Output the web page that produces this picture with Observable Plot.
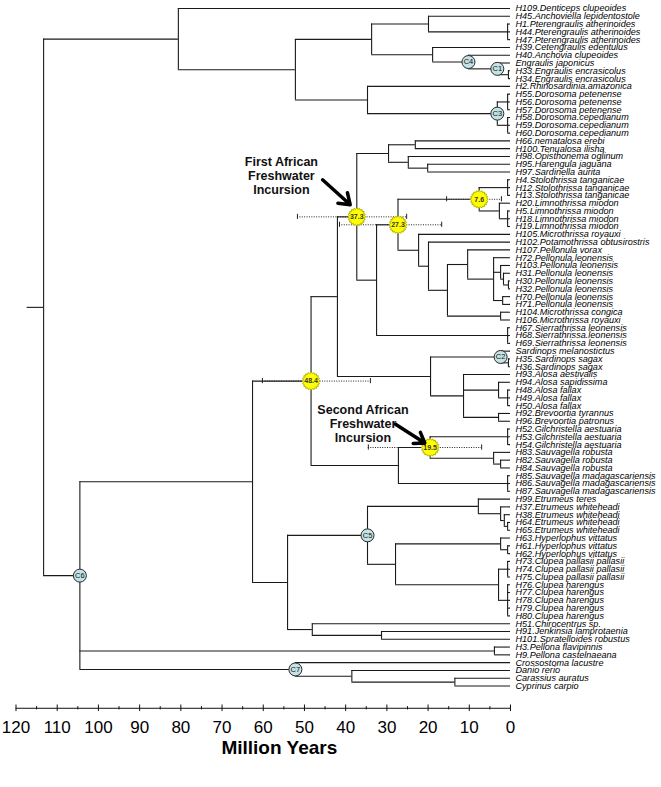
<!DOCTYPE html>
<html><head><meta charset="utf-8">
<script src="https://cdn.jsdelivr.net/npm/d3@7"></script>
<script src="https://cdn.jsdelivr.net/npm/@observablehq/plot@0.6"></script>
<style>body{margin:0;background:#fff}</style>
</head><body><div id="chart"></div>
<script>
const tipNames = [
"H109.Denticeps clupeoides","H45.Anchoviella lepidentostole","H1.Pterengraulis atherinoides","H44.Pterengraulis atherinoides","H47.Pterengraulis atherinoides",
"H39.Cetengraulis edentulus","H40.Anchovia clupeoides","Engraulis japonicus","H33.Engraulis encrasicolus","H34.Engraulis encrasicolus",
"H2.Rhinosardinia.amazonica","H55.Dorosoma petenense","H56.Dorosoma petenense","H57.Dorosoma petenense","H58.Dorosoma.cepedianum",
"H59.Dorosoma.cepedianum","H60.Dorosoma.cepedianum","H66.nematalosa erebi","H100.Tenualosa ilisha","H98.Opisthonema oglinum",
"H95.Harengula jaguana","H97.Sardinella aurita","H4.Stolothrissa tanganicae","H12.Stolothrissa tanganicae","H13.Stolothrissa tanganicae",
"H20.Limnothrissa miodon","H5.Limnothrissa miodon","H18.Limnothrissa miodon","H19.Limnothrissa miodon","H105.Microthrissa royauxi",
"H102.Potamothrissa obtusirostris","H107.Pellonula vorax","H72.Pellonula.leonensis","H103.Pellonula leonensis","H31.Pellonula leonensis",
"H30.Pellonula leonensis","H32.Pellonula leonensis","H70.Pellonula leonensis","H71.Pellonula leonensis","H104.Microthrissa congica",
"H106.Microthrissa royauxi","H67.Sierrathrissa leonensis","H68.Sierrathrissa.leonensis","H69.Sierrathrissa leonensis","Sardinops melanostictus",
"H35.Sardinops sagax","H36.Sardinops sagax","H93.Alosa aestivalis","H94.Alosa sapidissima","H48.Alosa fallax",
"H49.Alosa fallax","H50.Alosa fallax","H92.Brevoortia tyrannus","H96.Brevoortia patronus","H52.Gilchristella aestuaria",
"H53.Gilchristella aestuaria","H54.Gilchristella aestuaria","H83.Sauvagella robusta","H82.Sauvagella robusta","H84.Sauvagella robusta",
"H85.Sauvagella madagascariensis","H86.Sauvagella madagascariensis","H87.Sauvagella madagascariensis","H99.Etrumeus teres","H37.Etrumeus whiteheadi",
"H38.Etrumeus whiteheadi","H64.Etrumeus whiteheadi","H65.Etrumeus whiteheadi","H63.Hyperlophus vittatus","H61.Hyperlophus vittatus",
"H62.Hyperlophus vittatus","H73.Clupea pallasii pallasii","H74.Clupea pallasii pallasii","H75.Clupea pallasii pallasii","H76.Clupea harengus",
"H77.Clupea harengus","H78.Clupea harengus","H79.Clupea harengus","H80.Clupea harengus","H51.Chirocentrus sp.",
"H91.Jenkinsia lamprotaenia","H101.Spratelloides robustus","H3.Pellona flavipinnis","H9.Pellona castelnaeana","Crossostoma lacustre",
"Danio rerio","Carassius auratus","Cyprinus carpio"];
const tipParent = [
"n178","eng1","ptero","ptero","ptero","eng2","c4","c1","enc","enc",
"w367","dpet","dpet","dpet","dcep","dcep","dcep","nem","nem","opi",
"har","har","stol","stol","stol","lim1","lim2","lim2","lim2","n418",
"n428","n467","p1","p2","p4","p5","p5","p3","p3","mic",
"mic","sier","sier","sier","c2","sag","sag","n463","a2","a1",
"a1","a1","brev","brev","gil","gil","gil","sr1","sr2","sr2",
"smad","smad","smad","et1","et2","et3","et4","et4","hy1","hy2",
"hy2","pal","pal","pal","haren","haren","haren","haren","haren","chi",
"jen","jen","pell","pell","c7","dan","cc","cc"];
const nodeIds    = ["root","n178","n296","eng","eng1","ptero","eng2","c4","c1","enc","w367","c3","dpet","dcep","c6","n252","d48","n337","d37","z388","nem","opi","har","n376","d27","d7","stol","lim1","lim2","n418","n428","n447","n467","p1","p2","p4","p5","p3","mic","sier","n430","c2","sag","n463","a2","a1","brev","n398","d19","gil","sr1","sr2","smad","n287","c5","et1","et2","et3","et4","n395","hy1","hy2","clu","pal","haren","chi","jen","pell","c7","dan","cc"];
const nodeParent = [null,"root","n178","n296","eng","eng1","eng","eng2","c4","c1","n296","w367","c3","c3","root","c6","n252","d48","n337","d37","z388","z388","opi","d37","n376","d27","d7","d7","lim1","d27","n418","n428","n447","n467","p1","p2","p4","p1","n447","n376","n337","n430","c2","n430","n463","a2","n463","d48","n398","d19","d19","sr1","n398","n252","n287","c5","et1","et2","et3","c5","n395","hy1","n395","clu","clu","n287","chi","c6","c6","c7","dan"];
const nodeAge    = [113.3,80.6,52.2,33.7,19.9,0.7,18.9,10.2,3.2,0.5,34.7,3.2,0.7,0.7,104.5,62.6,48.4,42.0,37.3,29.6,23.1,24.8,20.1,32.5,27.3,7.6,0.7,2.7,0.7,22.3,19.9,15.3,10.4,4.1,2.4,1.7,0.5,1.9,2.4,0.7,19.4,2.4,0.5,11.4,2.9,0.7,2.9,27.2,19.5,0.7,4.1,2.4,0.7,54.1,34.7,7.8,2.4,1.5,0.7,27.9,2.4,0.7,2.9,0.7,0.7,48.1,31.3,3.9,52.2,38.5,13.5];
const rootStubAge = 117.3;

const calibNodes  = ["c1","c2","c3","c4","c5","c6","c7"];
const calibLabels = ["C1","C2","C3","C4","C5","C6","C7"];

const dateNodes = ["d48","d37","d27","d7","d19"];
const dateText  = ["48.4","37.3","27.3","7.6","19.5"];
const dateLow   = [60.2,51.7,41.5,15.5,34.5];
const dateHigh  = [34.0,25.2,16.7,2.2,7.0];

const noteText = ["First African\nFreshwater\nIncursion","Second African\nFreshwater\nIncursion"];
const noteAge  = [55.6,35.8];
const noteRow  = [21.5,53.3];
const arrowFrom = [[45.6,22.0],[27.9,53.4]];
const arrowTo   = [[38.9,25.2],[20.8,55.8]];

const xTicks = d3.range(0,121,10);
const xMinor = d3.range(5,120,10);
const axisRow = 89.86;
const axisTitle = "Million Years";

// ---- layout
const tips = tipNames.map((name,i)=>({id:"t"+i,name,parent:tipParent[i],age:0,y:i}));
const nodes = nodeIds.map((id,i)=>({id,parent:nodeParent[i],age:nodeAge[i]}));
const all = [...tips,...nodes];
const byId = new Map(all.map(d=>[d.id,d]));
const kids = d3.group(all.filter(d=>d.parent),d=>d.parent);
function place(d){
  if (d.y!==undefined) return d.y;
  const ys = kids.get(d.id).map(place);
  d.yMin = d3.min(ys); d.yMax = d3.max(ys);
  return d.y = (d.yMin+d.yMax)/2;
}
nodes.forEach(place);
const edges = all.filter(d=>d.parent).map(d=>({y:d.y,x1:byId.get(d.parent).age,x2:d.age}));
const root = byId.get("root");
edges.push({y:root.y,x1:rootStubAge,x2:root.age});
const calibs = calibNodes.map((id,i)=>({...byId.get(id),label:calibLabels[i]}));
const dates = dateNodes.map((id,i)=>({...byId.get(id),label:dateText[i],lo:dateLow[i],hi:dateHigh[i]}));
const caps = dates.flatMap(d=>[{x:d.lo,y:d.y},{x:d.hi,y:d.y}]);
const notes = noteText.map((t,i)=>({t,x:noteAge[i],y:noteRow[i]}));
const arrows = arrowFrom.map((f,i)=>({x1:f[0],y1:f[1],x2:arrowTo[i][0],y2:arrowTo[i][1]}));

const starburst = {draw(ctx,size){
  const r = Math.sqrt(size/Math.PI), n = 20;
  for (let i=0;i<2*n;i++){const a=i*Math.PI/n, rr=i%2?r*0.84:r;
    const px=rr*Math.cos(a), py=rr*Math.sin(a); i?ctx.lineTo(px,py):ctx.moveTo(px,py);}
  ctx.closePath();
}};

const chart = Plot.plot({
  width:661, height:787,
  marginLeft:15.5, marginRight:151, marginTop:0, marginBottom:79,
  x:{domain:[120,0]},
  y:{domain:[0,87], range:[8,685.5], axis:null},
  style:{fontFamily:"'Liberation Sans', Arial, sans-serif", background:"#fff"},
  marks:[
    Plot.ruleY(edges,{y:"y",x1:"x1",x2:"x2",stroke:"#1a1a1a",strokeWidth:1.1}),
    Plot.ruleX(nodes,{x:"age",y1:"yMin",y2:"yMax",stroke:"#1a1a1a",strokeWidth:1.1}),
    Plot.text(tips,{x:"age",y:"y",text:"name",dx:5,textAnchor:"start",fontSize:9.1,fontStyle:"italic",fill:"#000"}),
    Plot.ruleY(dates,{y:"y",x1:"lo",x2:"hi",stroke:"#222",strokeDasharray:"1,1.4",strokeWidth:1}),
    Plot.ruleX(caps,{x:"x",y1:d=>d.y-0.33,y2:d=>d.y+0.33,stroke:"#222"}),
    Plot.dot(dates,{x:"age",y:"y",r:9,symbol:starburst,fill:"#ffff00",stroke:"#b5b500",strokeWidth:1}),
    Plot.text(dates,{x:"age",y:"y",text:"label",fontSize:7,fontWeight:"bold",fill:"#333"}),
    Plot.dot(calibs,{x:"age",y:"y",r:6.5,fill:"#c4e3e5",stroke:"#2a2a2a",strokeWidth:1}),
    Plot.text(calibs,{x:"age",y:"y",text:"label",fontSize:7.5,fill:"#111"}),
    Plot.text(notes,{x:"x",y:"y",text:"t",fontSize:12.5,fontWeight:"bold",lineHeight:1.12,fill:"#111"}),
    Plot.arrow(arrows,{x1:"x1",y1:"y1",x2:"x2",y2:"y2",strokeWidth:3.5,headLength:9,headAngle:70,stroke:"#000"}),
    Plot.ruleY([axisRow],{x1:120,x2:0,stroke:"#111"}),
    Plot.ruleX(xTicks,{x:d=>d,y1:axisRow-0.42,y2:axisRow+0.42,stroke:"#111"}),
    Plot.ruleX(xMinor,{x:d=>d,y1:axisRow-0.21,y2:axisRow+0.21,stroke:"#111"}),
    Plot.axisX(xTicks,{anchor:"bottom",tickSize:0,tickPadding:12,fontSize:17,tickFormat:d=>String(d),label:null}),
    Plot.text([axisTitle],{x:56.1,y:axisRow,dy:40,text:d=>d,fontSize:19,fontWeight:"bold",fill:"#000"})
  ]
});
document.getElementById("chart").append(chart);
</script></body></html>
